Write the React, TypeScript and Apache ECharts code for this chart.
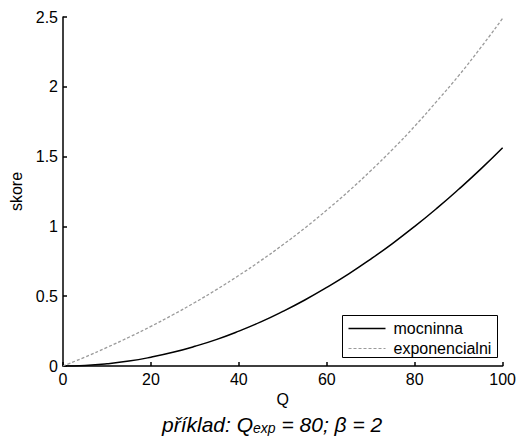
import React, { useEffect, useRef } from "react";
import * as echarts from "echarts";

const qValues = [0, 5, 10, 15, 20, 25, 30, 35, 40, 45, 50, 55, 60, 65, 70, 75, 80, 85, 90, 95, 100];
const mocninna = [0, 0.004, 0.016, 0.035, 0.063, 0.098, 0.141, 0.191, 0.25, 0.316, 0.391, 0.473, 0.563, 0.66, 0.766, 0.879, 1.0, 1.129, 1.266, 1.41, 1.563];
const exponencialni = [0, 0.064, 0.133, 0.206, 0.284, 0.367, 0.455, 0.549, 0.649, 0.755, 0.868, 0.988, 1.117, 1.253, 1.399, 1.553, 1.718, 1.896, 2.08, 2.28, 2.49];
const seriesNames = ["mocninna", "exponencialni"];
const xTicks = [0, 20, 40, 60, 80, 100];
const yTicks = [0, 0.5, 1, 1.5, 2, 2.5];

export default function App() {
  const ref = useRef<HTMLDivElement>(null);
  useEffect(() => {
    document.body.style.margin = "0";
    const chart = echarts.init(ref.current!, null, { renderer: "svg" });
    const font = "Liberation Sans, Arial, sans-serif";
    const black = "#000";
    const gray = "#9a9a9a";
    chart.setOption({
      animation: false,
      backgroundColor: "#ffffff",
      textStyle: { fontFamily: font },
      grid: { left: 63, right: 15, top: 17, bottom: 77 },
      graphic: [
        {
          type: "group",
          left: 342,
          top: 315,
          children: [
            { type: "rect", shape: { x: 0, y: 0, width: 155, height: 42 }, style: { fill: "#fff", stroke: black, lineWidth: 1 } },
            { type: "line", shape: { x1: 6, y1: 13, x2: 43, y2: 13 }, style: { stroke: black, lineWidth: 1.5 } },
            { type: "text", x: 51, y: 13, style: { text: seriesNames[0], font: `16px ${font}`, fill: black, verticalAlign: "middle" } },
            { type: "line", shape: { x1: 6, y1: 33, x2: 43, y2: 33 }, style: { stroke: gray, lineWidth: 1.2, lineDash: [3, 2] } },
            { type: "text", x: 51, y: 33, style: { text: seriesNames[1], font: `16px ${font}`, fill: black, verticalAlign: "middle" } },
          ],
        },
        {
          type: "text",
          left: 162,
          top: 414,
          style: {
            text: "{a|příklad: Q}{s|exp}{a| = 80; β = 2}",
            rich: {
              a: { fontSize: 21, fontStyle: "italic", fontFamily: font, fill: black, verticalAlign: "bottom", lineHeight: 25 },
              s: { fontSize: 14, fontStyle: "italic", fontFamily: font, fill: black, verticalAlign: "bottom", lineHeight: 19 },
            },
          },
        },
      ],
      xAxis: {
        type: "value",
        min: 0,
        max: 100,
        interval: 20,
        name: "Q",
        nameLocation: "middle",
        nameGap: 22,
        nameTextStyle: { fontSize: 16, color: black, fontFamily: font },
        axisLine: { lineStyle: { color: black, width: 1.5 } },
        axisTick: { inside: true, length: 4, lineStyle: { color: black, width: 1.5 } },
        axisLabel: { fontSize: 16, color: black, margin: 5, fontFamily: font, formatter: (v: number) => (xTicks.includes(v) ? String(v) : "") },
        splitLine: { show: false },
      },
      yAxis: {
        type: "value",
        min: 0,
        max: 2.5,
        interval: 0.5,
        name: "skore",
        nameLocation: "middle",
        nameGap: 32,
        nameTextStyle: { fontSize: 16, color: black, fontFamily: font },
        axisLine: { lineStyle: { color: black, width: 1.5 } },
        axisTick: { inside: true, length: 4, lineStyle: { color: black, width: 1.5 } },
        axisLabel: { fontSize: 16, color: black, margin: 5, fontFamily: font, formatter: (v: number) => (yTicks.includes(v) ? String(v) : "") },
        splitLine: { show: false },
      },
      series: [
        {
          name: seriesNames[0],
          type: "line",
          smooth: true,
          symbol: "none",
          data: qValues.map((q, i) => [q, mocninna[i]]),
          lineStyle: { color: black, width: 1.5 },
        },
        {
          name: seriesNames[1],
          type: "line",
          smooth: true,
          symbol: "none",
          data: qValues.map((q, i) => [q, exponencialni[i]]),
          lineStyle: { color: gray, width: 1.3, type: [3, 2] },
        },
      ],
    });
    return () => chart.dispose();
  }, []);
  return <div ref={ref} style={{ position: "absolute", left: 0, top: 0, width: 519, height: 443 }} />;
}
